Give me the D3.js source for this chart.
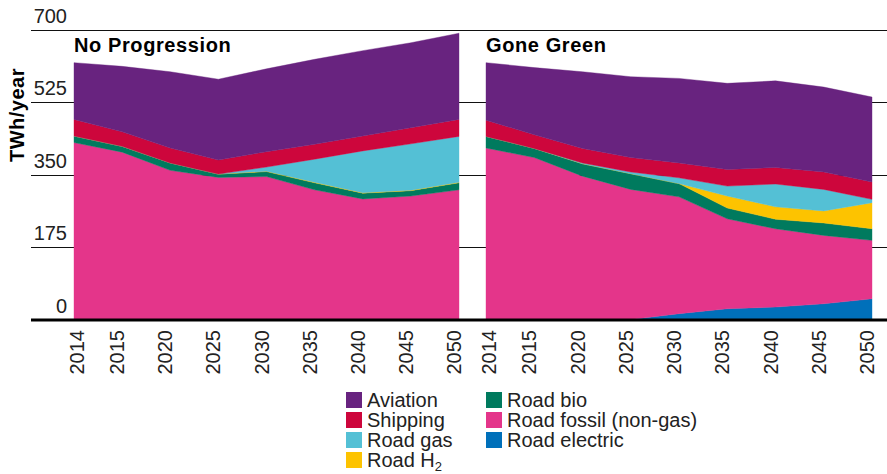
<!DOCTYPE html>
<html>
<head>
<meta charset="utf-8">
<script src="https://cdn.jsdelivr.net/npm/d3@7/dist/d3.min.js"></script>
<style>
  html, body { margin: 0; padding: 0; background: #fff; }
  svg { display: block; }
  text { font-family: "Liberation Sans", Arial, Helvetica, sans-serif; }
</style>
</head>
<body>
<svg id="chart" width="887" height="474"></svg>
<script>
// ---------- DATA ----------
const years = ["2014", "2015", "2020", "2025", "2030", "2035", "2040", "2045", "2050"];
const yTicks = [0, 175, 350, 525, 700];
const seriesKeys = ["Road electric", "Road fossil (non-gas)", "Road bio", "Road H2", "Road gas", "Shipping", "Aviation"];
const seriesColors = ["#0070ba", "#e4358a", "#007a5e", "#fdc300", "#54c0d5", "#cd063c", "#68237f"];
const panelTitles = ["No Progression", "Gone Green"];

// No Progression
const npElectric = [0, 0, 0, 1, 1, 1, 1, 1, 1];
const npFossil   = [427, 404, 360, 342, 344, 312, 290, 297, 312];
const npBio      = [16, 14, 18, 8, 12, 17, 14, 13, 17];
const npH2       = [0, 0, 0, 0, 1, 1, 1, 1, 1];
const npGas      = [0, 0, 0, 0, 10, 56, 101, 112, 111];
const npShipping = [40, 35, 36, 34, 37, 36, 36, 39, 41];
const npAviation = [137, 158, 184, 195, 200, 205, 206, 205, 208];

// Gone Green
const ggElectric = [0, 0, 0, 0, 14, 26, 30, 38, 50];
const ggFossil   = [414, 391, 346, 314, 282, 217, 189, 165, 141];
const ggBio      = [28, 22, 30, 38, 32, 26, 23, 30, 28];
const ggH2       = [0, 0, 0, 0, 0, 29, 30, 29, 63];
const ggGas      = [0, 0, 2, 4, 14, 24, 55, 52, 8];
const ggShipping = [39, 33, 35, 35, 36, 40, 40, 42, 42];
const ggAviation = [139, 162, 185, 195, 204, 208, 209, 205, 205];

const legendCol1 = ["Aviation", "Shipping", "Road gas", "Road H2"];
const legendCol2 = ["Road bio", "Road fossil (non-gas)", "Road electric"];

// ---------- BUILD TABLES ----------
function buildRows(arrs) {
  return years.map((yr, i) => {
    const r = { year: yr };
    seriesKeys.forEach((k, j) => { r[k] = arrs[j][i]; });
    return r;
  });
}
const panels = [
  buildRows([npElectric, npFossil, npBio, npH2, npGas, npShipping, npAviation]),
  buildRows([ggElectric, ggFossil, ggBio, ggH2, ggGas, ggShipping, ggAviation])
];
const colorOf = d3.scaleOrdinal().domain(seriesKeys).range(seriesColors);

// ---------- LAYOUT ----------
const svg = d3.select("#chart");
const W = 887;
const gridLeft = 31;
const y = d3.scaleLinear().domain([0, 700]).range([319.5, 29.5]);
const panelRanges = [[74, 459], [486, 872]];
const textColor = "#222";

// gridlines
svg.append("g").selectAll("line").data(yTicks.filter(t => t > 0)).join("line")
  .attr("x1", gridLeft).attr("x2", W)
  .attr("y1", d => Math.round(y(d)) + 0.5).attr("y2", d => Math.round(y(d)) + 0.5)
  .attr("stroke", "#111").attr("stroke-width", 1);

// y tick labels
svg.append("g").selectAll("text").data(yTicks).join("text")
  .attr("x", 67).attr("y", d => y(d) - 7)
  .attr("text-anchor", "end")
  .attr("font-size", 20).attr("fill", textColor)
  .text(d => d);

// y axis title
svg.append("text")
  .attr("transform", "translate(24,115) rotate(-90)")
  .attr("text-anchor", "middle")
  .attr("font-size", 20).attr("font-weight", "bold")
  .attr("letter-spacing", 0.5)
  .attr("fill", "#000")
  .text("TWh/year");

const stack = d3.stack().keys(seriesKeys);

panels.forEach((rows, pi) => {
  const [x0, x1] = panelRanges[pi];
  const x = d3.scalePoint().domain(years).range([x0, x1]);
  const area = d3.area()
    .x(d => x(d.data.year))
    .y0(d => y(d[0]))
    .y1(d => y(d[1]));
  const g = svg.append("g");
  g.selectAll("path").data(stack(rows)).join("path")
    .attr("d", area)
    .attr("fill", d => colorOf(d.key))
    .attr("stroke", d => colorOf(d.key))
    .attr("stroke-width", 0.4);

  // panel title
  svg.append("text")
    .attr("x", x0).attr("y", 52)
    .attr("font-size", 20).attr("font-weight", "bold")
    .attr("letter-spacing", 0.6)
    .attr("fill", "#000")
    .text(panelTitles[pi]);

  // x tick labels
  svg.append("g").selectAll("text").data(years).join("text")
    .attr("transform", d => {
      const cx = Math.max(x(d) - 5, x0 + 3);
      return `translate(${cx + 7},330) rotate(-90)`;
    })
    .attr("text-anchor", "end")
    .attr("font-size", 20).attr("fill", textColor)
    .text(d => d);
});

// baseline
svg.append("line")
  .attr("x1", gridLeft).attr("x2", W)
  .attr("y1", 320).attr("y2", 320)
  .attr("stroke", "#000").attr("stroke-width", 3);

// ---------- LEGEND ----------
function legendItem(g, name, lx, ly) {
  g.append("rect").attr("x", lx).attr("y", ly - 8).attr("width", 16).attr("height", 16)
    .attr("fill", colorOf(name === "Road H2" ? "Road H2" : name));
  const t = g.append("text").attr("x", lx + 21).attr("y", ly + 7)
    .attr("font-size", 20).attr("fill", textColor);
  if (name === "Road H2") {
    t.append("tspan").text("Road H");
    t.append("tspan").attr("font-size", 13).attr("dy", 4).text("2");
  } else {
    t.text(name);
  }
}
const lg = svg.append("g");
legendCol1.forEach((n, i) => legendItem(lg, n, 346, 400 + i * 20));
legendCol2.forEach((n, i) => legendItem(lg, n, 486, 400 + i * 20));
</script>
</body>
</html>
